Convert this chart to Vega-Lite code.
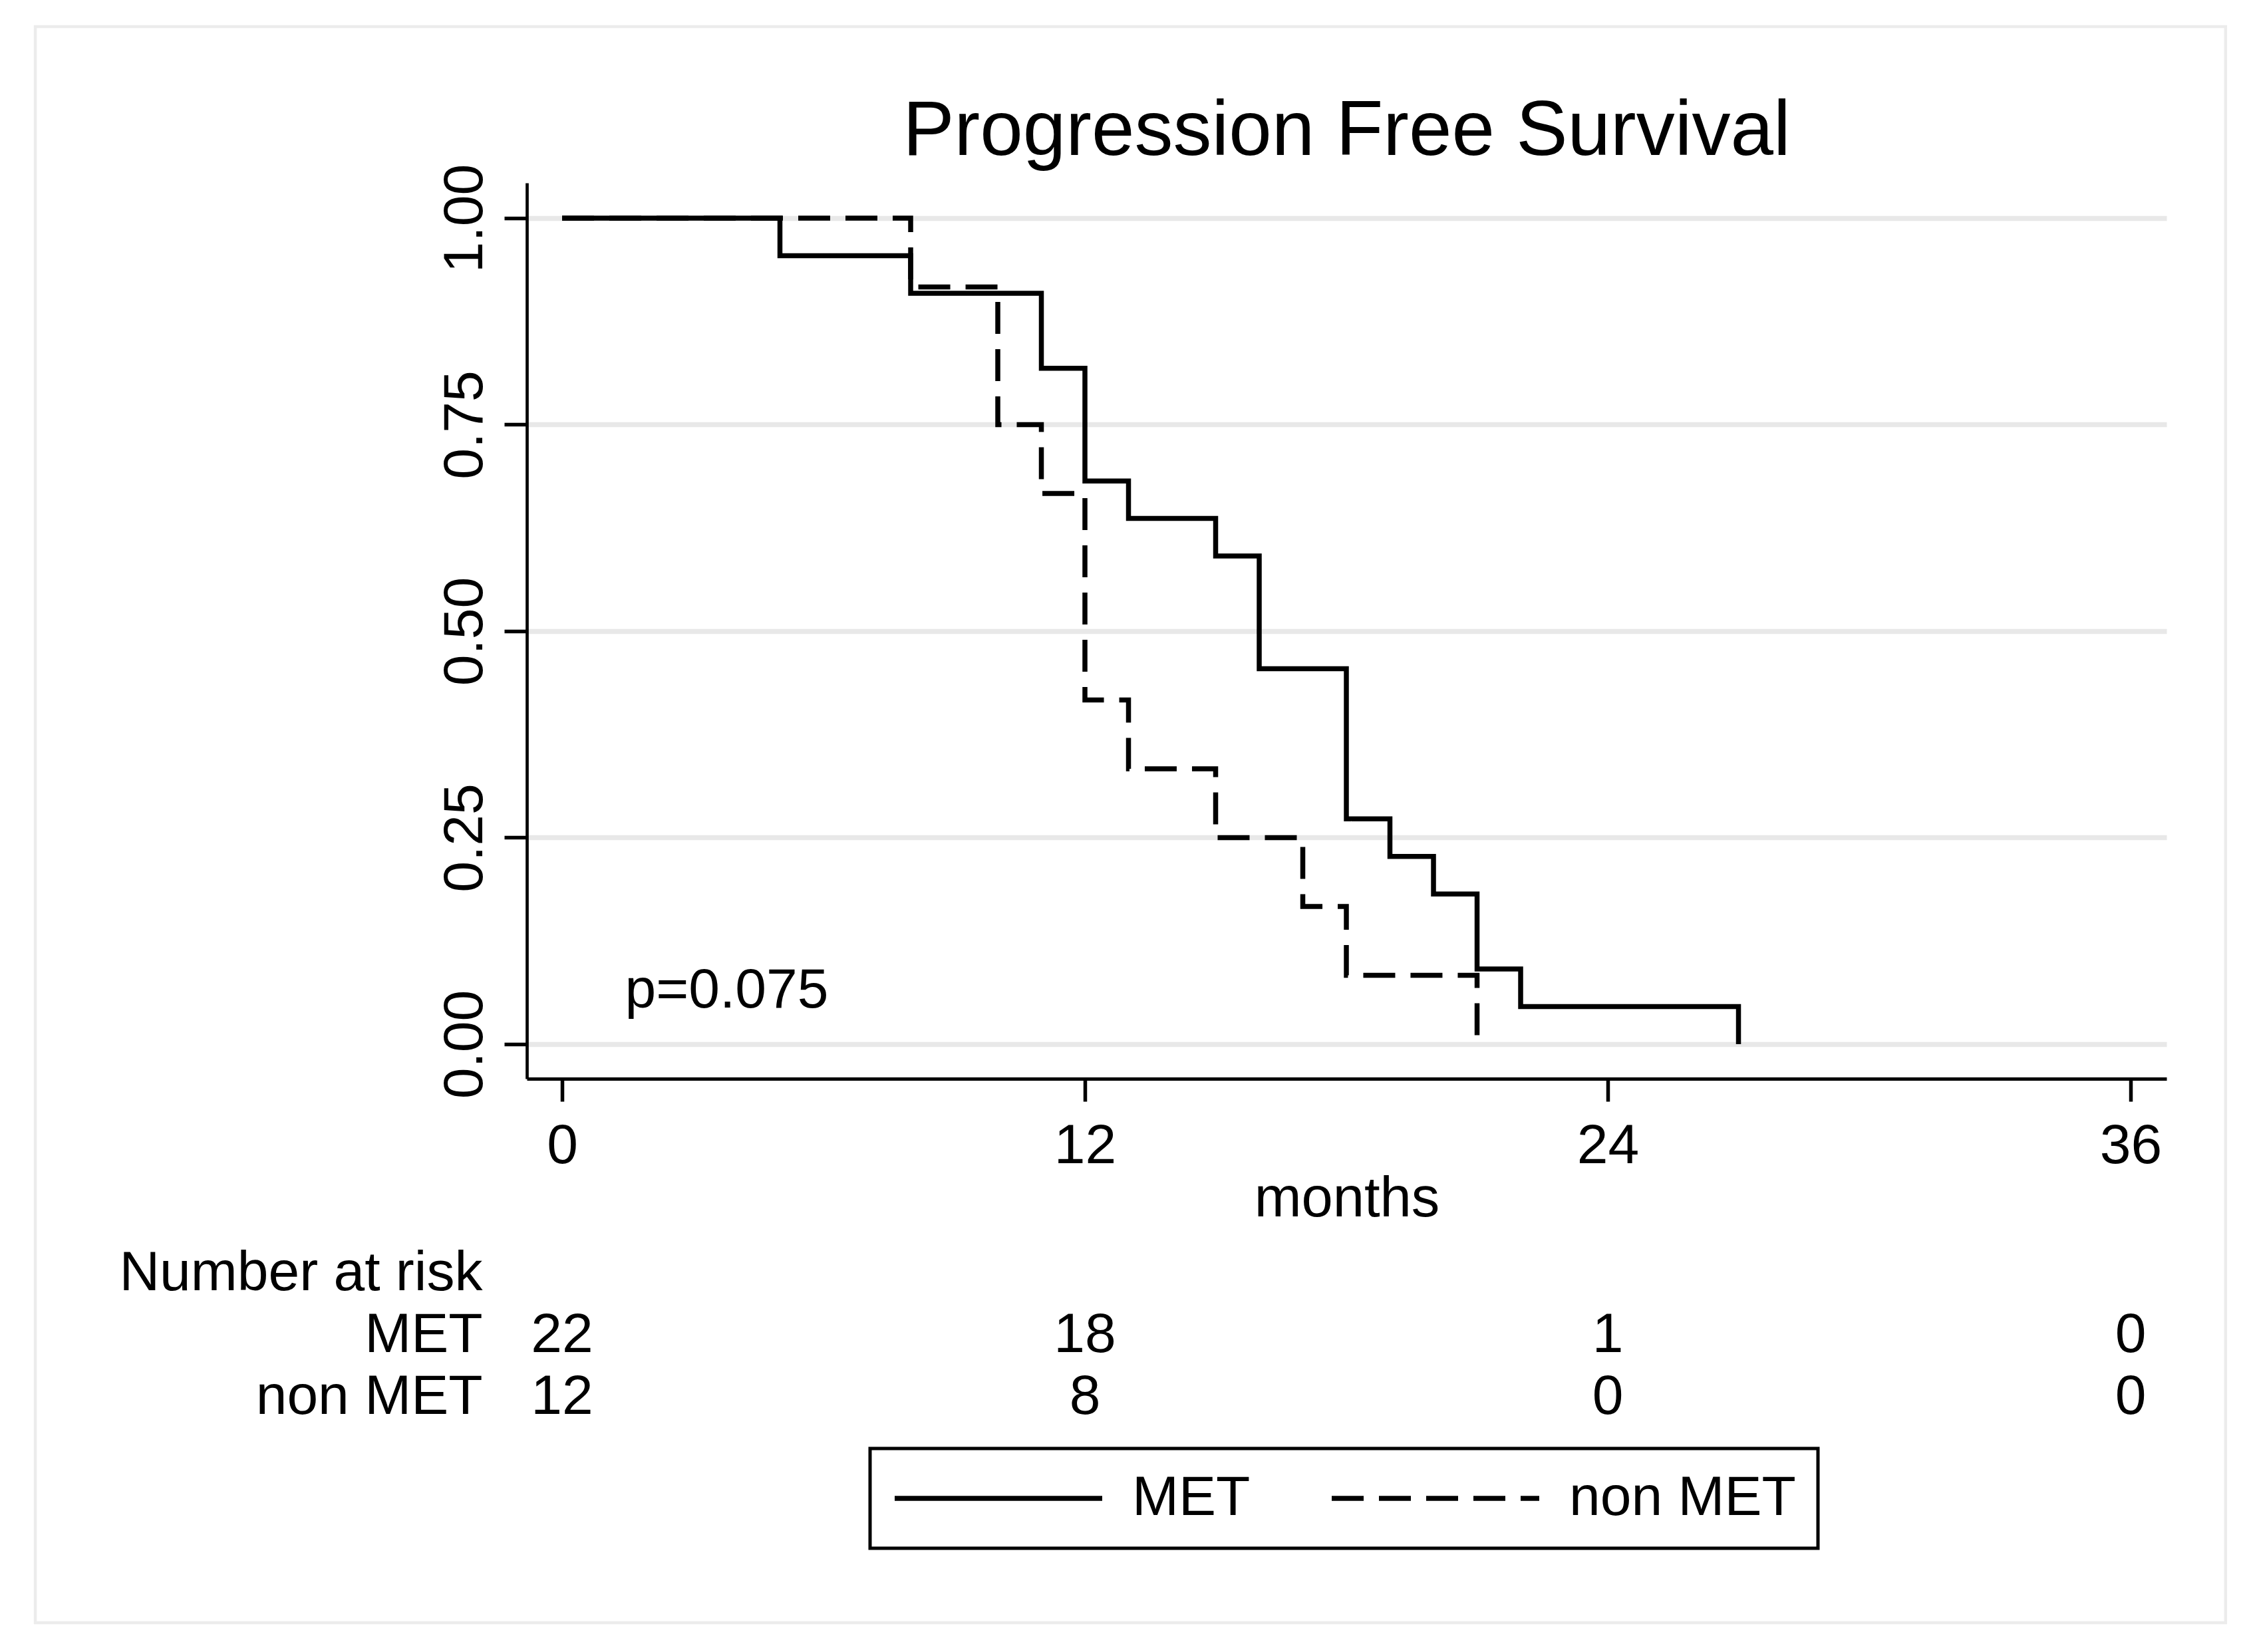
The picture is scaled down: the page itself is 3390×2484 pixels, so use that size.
{
  "$schema": "https://vega.github.io/schema/vega-lite/v6.json",
  "padding": {"left": 50, "top": 37, "right": 43, "bottom": 43},
  "background": "white",
  "bounds": "flush",
  "spacing": 246,
  "config": {
    "font": "Liberation Sans",
    "view": {"stroke": null},
    "axis": {
      "labelColor": "black",
      "titleColor": "black",
      "domainColor": "black",
      "tickColor": "black",
      "labelFont": "Liberation Sans",
      "titleFont": "Liberation Sans",
      "titleFontWeight": "normal"
    },
    "legend": {"strokeWidth": 5}
  },
  "vconcat": [
    {
      "width": 2465,
      "height": 1347,
      "title": {
        "text": "Progression Free Survival",
        "fontSize": 116,
        "fontWeight": "normal",
        "color": "black",
        "anchor": "middle",
        "frame": "group",
        "baseline": "alphabetic",
        "offset": -311
      },
      "data": {
        "values": [
          {"group": "MET", "month": 0, "surv": 1},
          {"group": "MET", "month": 5, "surv": 0.9545},
          {"group": "MET", "month": 8, "surv": 0.9091},
          {"group": "MET", "month": 11, "surv": 0.8182},
          {"group": "MET", "month": 12, "surv": 0.6818},
          {"group": "MET", "month": 13, "surv": 0.6364},
          {"group": "MET", "month": 15, "surv": 0.5909},
          {"group": "MET", "month": 16, "surv": 0.4545},
          {"group": "MET", "month": 18, "surv": 0.2727},
          {"group": "MET", "month": 19, "surv": 0.2273},
          {"group": "MET", "month": 20, "surv": 0.1818},
          {"group": "MET", "month": 21, "surv": 0.0909},
          {"group": "MET", "month": 22, "surv": 0.0455},
          {"group": "MET", "month": 27, "surv": 0},
          {"group": "non MET", "month": 0, "surv": 1},
          {"group": "non MET", "month": 8, "surv": 0.9167},
          {"group": "non MET", "month": 10, "surv": 0.75},
          {"group": "non MET", "month": 11, "surv": 0.6667},
          {"group": "non MET", "month": 12, "surv": 0.4167},
          {"group": "non MET", "month": 13, "surv": 0.3333},
          {"group": "non MET", "month": 15, "surv": 0.25},
          {"group": "non MET", "month": 17, "surv": 0.1667},
          {"group": "non MET", "month": 18, "surv": 0.0833},
          {"group": "non MET", "month": 21, "surv": 0}
        ]
      },
      "layer": [
        {
          "data": {"values": [{}]},
          "mark": {"type": "rect", "fillOpacity": 0, "stroke": "#ececec", "strokeWidth": 4.5},
          "encoding": {
            "x": {"datum": -12.09, "type": "quantitative"},
            "x2": {"datum": 38.18},
            "y": {"datum": 1.2319, "type": "quantitative"},
            "y2": {"datum": -0.7005}
          }
        },
        {
          "mark": {"type": "line", "interpolate": "step-after", "color": "black", "strokeWidth": 7.5},
          "encoding": {
            "x": {
              "field": "month",
              "type": "quantitative",
              "title": "months",
              "scale": {"domain": [-0.8092, 36.824], "nice": false, "zero": false},
              "axis": {
                "values": [0, 12, 24, 36],
                "format": "d",
                "titleFontSize": 85,
                "titlePadding": -4,
                "labelFontSize": 84,
                "labelPadding": 26,
                "tickSize": 34,
                "tickWidth": 5.5,
                "domainWidth": 5,
                "grid": false,
                "labelFlush": false,
                "labelOverlap": false
              }
            },
            "y": {
              "field": "surv",
              "type": "quantitative",
              "title": null,
              "scale": {"domain": [-0.04187, 1.04267], "nice": false, "zero": false},
              "axis": {
                "values": [0, 0.25, 0.5, 0.75, 1],
                "format": ".2f",
                "labelAngle": 270,
                "labelAlign": "center",
                "labelBaseline": "alphabetic",
                "labelPadding": 34,
                "labelFontSize": 84,
                "tickSize": 34,
                "tickWidth": 5.5,
                "domainWidth": 4.7,
                "grid": true,
                "gridColor": "#e8e8e8",
                "gridWidth": 7.5,
                "labelFlush": false,
                "labelOverlap": false
              }
            },
            "strokeDash": {
              "field": "group",
              "type": "nominal",
              "scale": {"domain": ["MET", "non MET"], "range": [[1, 0], [48, 23]]},
              "legend": {
                "orient": "none",
                "legendX": 516,
                "legendY": 1903,
                "direction": "horizontal",
                "title": null,
                "symbolType": "stroke",
                "symbolSize": 97344,
                "symbolStrokeWidth": 7.5,
                "symbolStrokeColor": "black",
                "clipHeight": 84,
                "labelFontSize": 84,
                "labelColor": "black",
                "labelOffset": 41,
                "labelLimit": 1000,
                "columnPadding": 118,
                "padding": 33,
                "strokeColor": "black"
              }
            }
          }
        },
        {
          "data": {"values": [{"label": "p=0.075"}]},
          "mark": {"type": "text", "align": "left", "baseline": "alphabetic", "fontSize": 84, "color": "black"},
          "encoding": {
            "x": {"datum": 1.443, "type": "quantitative"},
            "y": {"datum": 0.0443, "type": "quantitative"},
            "text": {"field": "label"}
          }
        }
      ]
    },
    {
      "width": 2465,
      "height": 279,
      "data": {
        "values": [
          {"group": "MET", "month": 0, "n": 22},
          {"group": "MET", "month": 12, "n": 18},
          {"group": "MET", "month": 24, "n": 1},
          {"group": "MET", "month": 36, "n": 0},
          {"group": "non MET", "month": 0, "n": 12},
          {"group": "non MET", "month": 12, "n": 8},
          {"group": "non MET", "month": 24, "n": 0},
          {"group": "non MET", "month": 36, "n": 0}
        ]
      },
      "mark": {"type": "text", "fontSize": 84, "baseline": "middle", "align": "center", "color": "black"},
      "encoding": {
        "x": {
          "field": "month",
          "type": "quantitative",
          "scale": {"domain": [-0.8092, 36.824], "nice": false, "zero": false},
          "axis": null
        },
        "y": {
          "field": "group",
          "type": "nominal",
          "scale": {"type": "point", "domain": ["Number at risk", "MET", "non MET"], "padding": 0.5},
          "axis": {
            "title": null,
            "domain": false,
            "ticks": false,
            "tickSize": 0,
            "labelFontSize": 84,
            "labelPadding": 67,
            "labelAlign": "right",
            "labelBaseline": "middle",
            "labelLimit": 1000
          }
        },
        "text": {"field": "n", "type": "quantitative"}
      }
    }
  ]
}
